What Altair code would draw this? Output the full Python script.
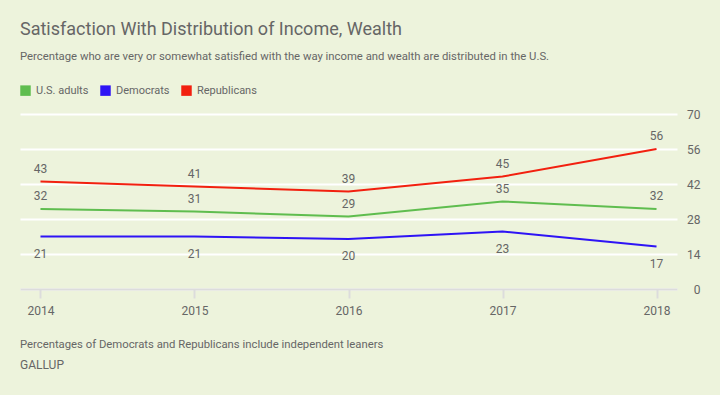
import altair as alt
import pandas as pd
import jinja2

years = ["2014", "2015", "2016", "2017", "2018"]
us_adults = [32, 31, 29, 35, 32]
democrats = [21, 21, 20, 23, 17]
republicans = [43, 41, 39, 45, 56]
series = ["U.S. adults", "Democrats", "Republicans"]
colors = ["#5fbd4f", "#2e14f5", "#f2200f"]
y_ticks = [0, 14, 28, 42, 56, 70]
title_text = "Satisfaction With Distribution of Income, Wealth"
subtitle_text = "Percentage who are very or somewhat satisfied with the way income and wealth are distributed in the U.S."
footnote = "Percentages of Democrats and Republicans include independent leaners"
source = "GALLUP"

rows = []
for name, vals in zip(series, [us_adults, democrats, republicans]):
    for yr, v in zip(years, vals):
        rows.append({"year": yr, "series": name, "value": v})
df = pd.DataFrame(rows)

FONT = "Roboto"
GREY = "#666666"
BG = "#edf3dc"

x = alt.X("year:O", scale=alt.Scale(type="point", padding=0.133),
          axis=alt.Axis(title=None, labelAngle=0, domainColor="#dcdcdc", domainWidth=2,
                        tickColor="#dcdcdc", tickWidth=2, tickSize=9, labelPadding=7,
                        labelColor=GREY, labelFontSize=12, labelFont=FONT, grid=False, zindex=1))
y = alt.Y("value:Q", scale=alt.Scale(domain=[0, 70]),
          axis=alt.Axis(orient="right", values=y_ticks, title=None, domain=False, ticks=False,
                        grid=True, gridColor="white", gridWidth=2, labelAlign="right",
                        labelPadding=23, labelColor=GREY, labelFontSize=12, labelFont=FONT))

leg = alt.Legend(title=None, orient="none", legendX=0, legendY=-29,
                 direction="horizontal", symbolType="square", symbolSize=110,
                 symbolStrokeWidth=0, symbolOpacity=1, labelFontSize=11,
                 labelColor=GREY, labelFont=FONT, columnPadding=11, labelOffset=5)

base = alt.Chart(df)

lines = base.mark_line(strokeWidth=2).encode(
    x=x, y=y,
    color=alt.Color("series:N", scale=alt.Scale(domain=series, range=colors), legend=leg))

legend_layer = base.mark_square(opacity=0, size=1).encode(
    x=x, y=y,
    color=alt.Color("series:N", scale=alt.Scale(domain=series, range=colors), legend=leg))

above = base.transform_filter(alt.datum.series != "Democrats").mark_text(
    dy=-13, fontSize=12, color=GREY, font=FONT).encode(x=x, y=y, text="value:Q")
below = base.transform_filter(alt.datum.series == "Democrats").mark_text(
    dy=17, fontSize=12, color=GREY, font=FONT).encode(x=x, y=y, text="value:Q")

foot = alt.Chart(pd.DataFrame({"t": [footnote]})).mark_text(
    align="left", baseline="middle", fontSize=11.3, color=GREY, font=FONT).encode(
    x=alt.value(0), y=alt.value(231), text="t:N")
src = alt.Chart(pd.DataFrame({"t": [source]})).mark_text(
    align="left", baseline="middle", fontSize=12, color=GREY, font=FONT).encode(
    x=alt.value(0), y=alt.value(251), text="t:N")

chart = alt.layer(legend_layer, lines, above, below, foot, src).properties(
    width=657, height=175,
    title=alt.TitleParams(text=title_text, subtitle=subtitle_text, anchor="start", frame="group",
                          fontSize=18, fontWeight="normal", color=GREY, font=FONT,
                          subtitleColor=GREY, subtitleFontSize=11.3, subtitleFont=FONT,
                          subtitlePadding=12, offset=23),
    autosize=alt.AutoSizeParams(type="none"),
    padding={"left": 12, "top": 106, "right": 35, "bottom": 98},
).configure(background=BG).configure_view(stroke=None)

page = jinja2.Template("""<!DOCTYPE html>
<html>
<head>
<style>body { background: """ + BG + """; }</style>
<script type="text/javascript" src="{{ base_url }}/vega@{{ vega_version }}"></script>
<script type="text/javascript" src="{{ base_url }}/vega-lite@{{ vegalite_version }}"></script>
<script type="text/javascript" src="{{ base_url }}/vega-embed@{{ vegaembed_version }}"></script>
</head>
<body>
<div id="{{ output_div }}"></div>
<script type="text/javascript">
  vegaEmbed("#{{ output_div }}", {{ spec }}, {{ embed_options }}).catch(console.error);
</script>
</body>
</html>
""")

chart.save("out.html", embed_options={"renderer": "svg", "actions": False}, template=page)
